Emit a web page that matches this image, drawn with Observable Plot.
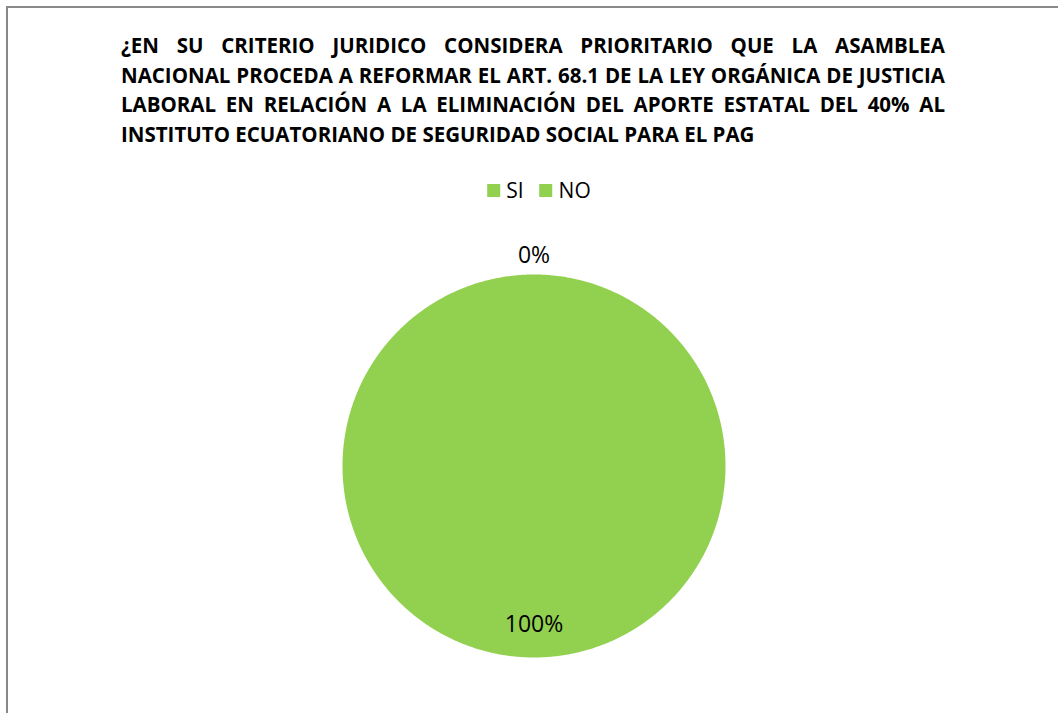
<!DOCTYPE html>
<html>
<head>
<meta charset="utf-8">
<script src="https://cdn.jsdelivr.net/npm/d3@7"></script>
<script src="https://cdn.jsdelivr.net/npm/@observablehq/plot@0.6"></script>
<style>
  html, body { margin: 0; padding: 0; background: #fff; }
  body { width: 1058px; height: 713px; overflow: hidden; position: relative; font-family: "Open Sans", sans-serif; }
  #frame { position: absolute; left: 6px; top: 6px; width: 1100px; height: 760px; border: 2px solid #898989; box-sizing: border-box; }
  #chart { position: absolute; left: 0; top: 0; }
  .tline { position: absolute; left: 121px; white-space: nowrap; font-weight: 700; font-size: 20.5px; color: #000; transform-origin: 0 50%; line-height: 24px; }
  .just { white-space: normal; text-align: justify; text-align-last: justify; }
  #legend { position: absolute; top: 178px; left: 539px; transform: translateX(-50%); display: flex; align-items: center; font-size: 21px; color: #000; line-height: 24px; }
  .item { display: flex; align-items: center; margin: 0 8px; }
  .sw { width: 13px; height: 13px; margin-right: 6px; }
</style>
</head>
<body>
<div id="frame"></div>
<div id="chart"></div>
<div id="title"></div>
<div id="legend"></div>
<script>
// ---- data ----
const titleLines = [
  "¿EN SU CRITERIO JURIDICO CONSIDERA PRIORITARIO QUE LA ASAMBLEA",
  "NACIONAL PROCEDA A REFORMAR EL ART. 68.1 DE LA LEY ORGÁNICA DE JUSTICIA",
  "LABORAL EN RELACIÓN A LA ELIMINACIÓN DEL APORTE ESTATAL DEL 40% AL",
  "INSTITUTO ECUATORIANO DE SEGURIDAD SOCIAL PARA EL PAG"
];
const categories = ["SI", "NO"];
const values = [100, 0];
const colors = ["#92D050", "#92D050"];

// ---- title ----
const titleEl = document.getElementById("title");
const measure = document.createElement("span");
measure.className = "tline";
measure.style.visibility = "hidden";
measure.textContent = titleLines[1];
document.body.appendChild(measure);
const natural = measure.getBoundingClientRect().width;
measure.remove();
const targetW = 824;
const s = Math.min(1, targetW / natural);
const centers = [45, 74.5, 104, 133.5];
titleLines.forEach((t, i) => {
  const d = document.createElement("div");
  d.className = "tline" + (i < titleLines.length - 1 ? " just" : "");
  d.textContent = t;
  d.style.top = (centers[i] - 12) + "px";
  d.style.width = (targetW / s) + "px";
  d.style.transform = `scaleX(${s})`;
  titleEl.appendChild(d);
});

// ---- legend ----
const legendEl = document.getElementById("legend");
categories.forEach((c, i) => {
  const it = document.createElement("div");
  it.className = "item";
  const sw = document.createElement("div");
  sw.className = "sw";
  sw.style.background = colors[i];
  const tx = document.createElement("span");
  tx.textContent = c;
  it.appendChild(sw); it.appendChild(tx);
  legendEl.appendChild(it);
});

// ---- pie ----
const total = d3.sum(values);
const arcs = d3.pie().sort(null).value(d => d)(values);
const pts = [];
arcs.forEach((a, i) => {
  if (a.endAngle - a.startAngle <= 0) return;
  const n = Math.max(2, Math.ceil((a.endAngle - a.startAngle) / (Math.PI / 360)));
  pts.push({cat: categories[i], x: 0, y: 0});
  for (let k = 0; k <= n; k++) {
    const ang = a.startAngle + (a.endAngle - a.startAngle) * k / n;
    pts.push({cat: categories[i], x: Math.sin(ang), y: Math.cos(ang)});
  }
});
const labels = arcs.map((a, i) => {
  const mid = (a.startAngle + a.endAngle) / 2;
  const frac = values[i] / total;
  const r = frac > 0.02 ? 0.83 : 1.1;
  return {cat: categories[i], x: r * Math.sin(mid), y: r * Math.cos(mid), label: Math.round(frac * 100) + "%"};
});

const W = 1058, H = 713;
const cx = 533.5, cy = 465.5, R = 191.5;
const plot = Plot.plot({
  width: W,
  height: H,
  marginLeft: cx - R,
  marginRight: W - (cx + R),
  marginTop: cy - R,
  marginBottom: H - (cy + R),
  x: {domain: [-1, 1], axis: null},
  y: {domain: [-1, 1], axis: null},
  color: {domain: categories, range: colors},
  style: {background: "transparent", overflow: "visible", fontFamily: "Open Sans, sans-serif"},
  marks: [
    Plot.line(pts, {x: "x", y: "y", z: "cat", fill: "cat", stroke: null, curve: "linear"}),
    Plot.text(labels, {x: "x", y: "y", text: "label", fill: "#000", fontSize: 23})
  ]
});
document.getElementById("chart").appendChild(plot);
</script>
</body>
</html>
